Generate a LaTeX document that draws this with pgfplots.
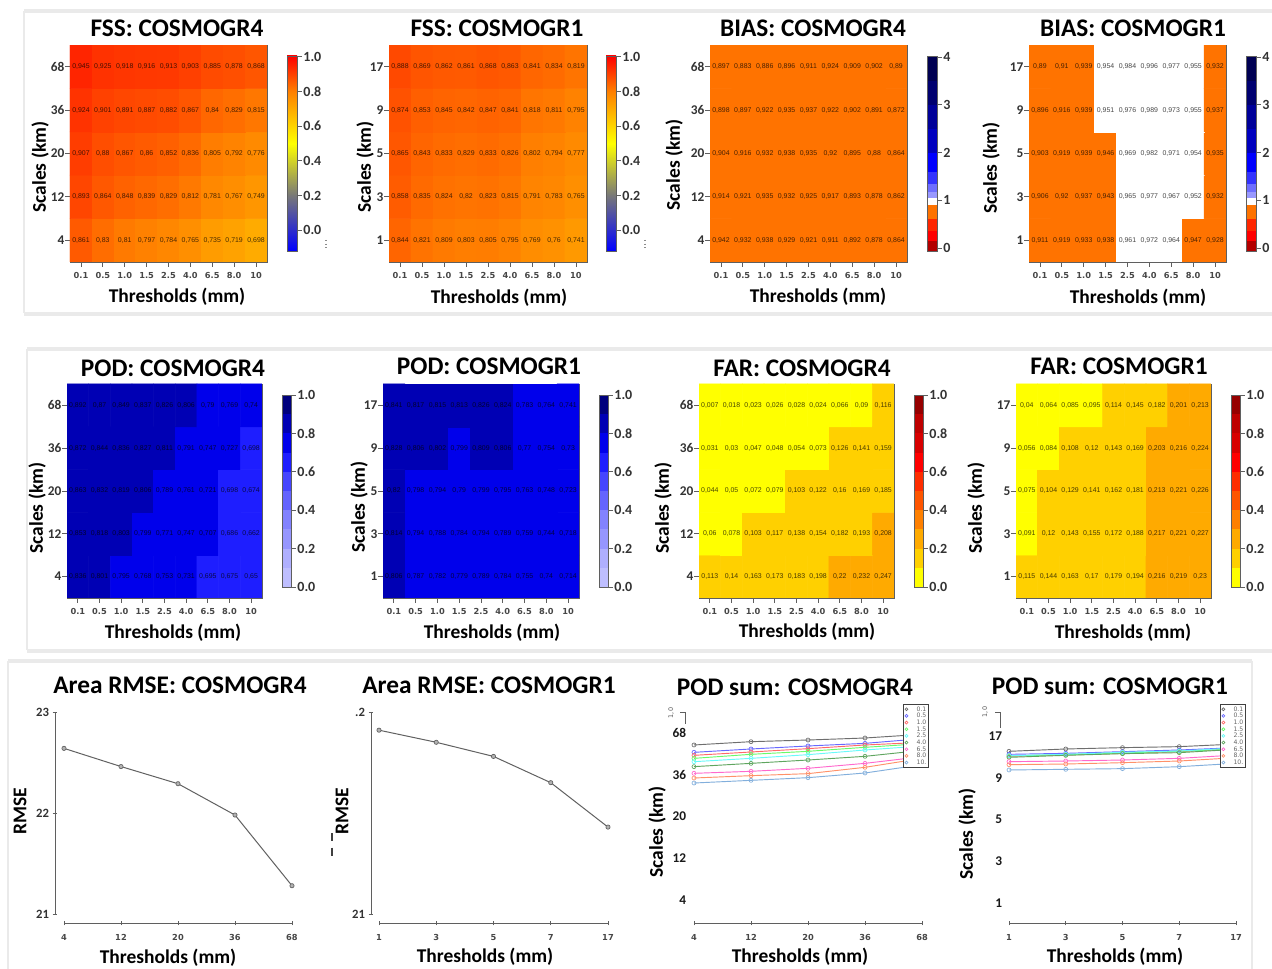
\documentclass[border=0pt]{standalone}
\usepackage{fontspec}
\usepackage{pgfplots}
\usepackage{pgfplotstable}
\pgfplotsset{compat=1.18}
\setmainfont{Carlito}
\newfontfamily\tickfont{DejaVu Sans}
\newfontfamily\cellfont{Liberation Sans}
\definecolor{frameg}{RGB}{95,95,95}
\definecolor{shadow}{RGB}{234,234,234}
% discrete colour scales
\definecolor{pod0}{RGB}{190,190,255}\definecolor{pod1}{RGB}{175,175,255}\definecolor{pod2}{RGB}{150,150,255}\definecolor{pod3}{RGB}{130,130,255}\definecolor{pod4}{RGB}{100,100,255}
\definecolor{pod5}{RGB}{70,70,255}\definecolor{pod6}{RGB}{30,30,255}\definecolor{pod7}{RGB}{0,0,235}\definecolor{pod8}{RGB}{0,0,180}\definecolor{pod9}{RGB}{0,0,125}
\definecolor{far0}{RGB}{255,255,0}\definecolor{far1}{RGB}{255,208,0}\definecolor{far2}{RGB}{255,170,0}\definecolor{far3}{RGB}{255,128,0}\definecolor{far4}{RGB}{255,85,0}
\definecolor{far5}{RGB}{255,45,0}\definecolor{far6}{RGB}{255,0,0}\definecolor{far7}{RGB}{215,0,0}\definecolor{far8}{RGB}{190,0,0}\definecolor{far9}{RGB}{150,0,0}
\definecolor{bor}{RGB}{255,115,0}
\pgfplotsset{
 colormap={fssmap}{rgb255(0pt)=(0,0,255) rgb255(32pt)=(120,120,120) rgb255(62pt)=(255,255,0) rgb255(92pt)=(255,128,0) rgb255(112.5pt)=(255,0,0)},
 colormap={podmap}{color=(pod0) color=(pod1) color=(pod2) color=(pod3) color=(pod4) color=(pod5) color=(pod6) color=(pod7) color=(pod8) color=(pod9)},
 colormap={farmap}{color=(far0) color=(far1) color=(far2) color=(far3) color=(far4) color=(far5) color=(far6) color=(far7) color=(far8) color=(far9)},
 colormap={biasmap}{color=(bor) color=(white)},
}
% ---- data, rows from the lowest scale upward
\pgfplotstableread[row sep=\\]{x y v\\
0 0 .861\\1 0 .83\\2 0 .81\\3 0 .797\\4 0 .784\\5 0 .765\\6 0 .735\\7 0 .719\\8 0 .698\\
0 1 .893\\1 1 .864\\2 1 .848\\3 1 .839\\4 1 .829\\5 1 .812\\6 1 .781\\7 1 .767\\8 1 .749\\
0 2 .907\\1 2 .88\\2 2 .867\\3 2 .86\\4 2 .852\\5 2 .836\\6 2 .805\\7 2 .792\\8 2 .776\\
0 3 .924\\1 3 .901\\2 3 .891\\3 3 .887\\4 3 .882\\5 3 .867\\6 3 .84\\7 3 .829\\8 3 .815\\
0 4 .945\\1 4 .925\\2 4 .918\\3 4 .916\\4 4 .913\\5 4 .903\\6 4 .885\\7 4 .878\\8 4 .868\\
}\fssA
\pgfplotstableread[row sep=\\]{x y v\\
0 0 .844\\1 0 .821\\2 0 .809\\3 0 .803\\4 0 .805\\5 0 .795\\6 0 .769\\7 0 .76\\8 0 .741\\
0 1 .858\\1 1 .835\\2 1 .824\\3 1 .82\\4 1 .823\\5 1 .815\\6 1 .791\\7 1 .783\\8 1 .765\\
0 2 .865\\1 2 .843\\2 2 .833\\3 2 .829\\4 2 .833\\5 2 .826\\6 2 .802\\7 2 .794\\8 2 .777\\
0 3 .874\\1 3 .853\\2 3 .845\\3 3 .842\\4 3 .847\\5 3 .841\\6 3 .818\\7 3 .811\\8 3 .795\\
0 4 .888\\1 4 .869\\2 4 .862\\3 4 .861\\4 4 .868\\5 4 .863\\6 4 .841\\7 4 .834\\8 4 .819\\
}\fssB
\pgfplotstableread[row sep=\\]{x y v\\
0 0 .942\\1 0 .932\\2 0 .938\\3 0 .929\\4 0 .921\\5 0 .911\\6 0 .892\\7 0 .878\\8 0 .864\\
0 1 .914\\1 1 .921\\2 1 .935\\3 1 .932\\4 1 .925\\5 1 .917\\6 1 .893\\7 1 .878\\8 1 .862\\
0 2 .904\\1 2 .916\\2 2 .932\\3 2 .938\\4 2 .935\\5 2 .92\\6 2 .895\\7 2 .88\\8 2 .864\\
0 3 .898\\1 3 .897\\2 3 .922\\3 3 .935\\4 3 .937\\5 3 .922\\6 3 .902\\7 3 .891\\8 3 .872\\
0 4 .897\\1 4 .883\\2 4 .886\\3 4 .896\\4 4 .911\\5 4 .924\\6 4 .909\\7 4 .902\\8 4 .89\\
}\biasA
\pgfplotstableread[row sep=\\]{x y v\\
0 0 .911\\1 0 .919\\2 0 .933\\3 0 .938\\4 0 .961\\5 0 .972\\6 0 .964\\7 0 .947\\8 0 .928\\
0 1 .906\\1 1 .92\\2 1 .937\\3 1 .943\\4 1 .965\\5 1 .977\\6 1 .967\\7 1 .952\\8 1 .932\\
0 2 .903\\1 2 .919\\2 2 .939\\3 2 .946\\4 2 .969\\5 2 .982\\6 2 .971\\7 2 .954\\8 2 .935\\
0 3 .896\\1 3 .916\\2 3 .939\\3 3 .951\\4 3 .976\\5 3 .989\\6 3 .973\\7 3 .955\\8 3 .937\\
0 4 .89\\1 4 .91\\2 4 .939\\3 4 .954\\4 4 .984\\5 4 .996\\6 4 .977\\7 4 .955\\8 4 .932\\
}\biasB
\pgfplotstableread[row sep=\\]{x y v\\
0 0 .836\\1 0 .801\\2 0 .795\\3 0 .768\\4 0 .753\\5 0 .731\\6 0 .695\\7 0 .675\\8 0 .65\\
0 1 .853\\1 1 .818\\2 1 .803\\3 1 .799\\4 1 .771\\5 1 .747\\6 1 .707\\7 1 .686\\8 1 .662\\
0 2 .863\\1 2 .832\\2 2 .819\\3 2 .806\\4 2 .789\\5 2 .761\\6 2 .721\\7 2 .698\\8 2 .674\\
0 3 .872\\1 3 .844\\2 3 .836\\3 3 .827\\4 3 .811\\5 3 .791\\6 3 .747\\7 3 .727\\8 3 .698\\
0 4 .892\\1 4 .87\\2 4 .849\\3 4 .837\\4 4 .826\\5 4 .806\\6 4 .79\\7 4 .769\\8 4 .74\\
}\podA
\pgfplotstableread[row sep=\\]{x y v\\
0 0 .806\\1 0 .787\\2 0 .782\\3 0 .779\\4 0 .789\\5 0 .784\\6 0 .755\\7 0 .74\\8 0 .714\\
0 1 .814\\1 1 .794\\2 1 .788\\3 1 .784\\4 1 .794\\5 1 .789\\6 1 .759\\7 1 .744\\8 1 .718\\
0 2 .82\\1 2 .798\\2 2 .794\\3 2 .79\\4 2 .799\\5 2 .795\\6 2 .763\\7 2 .748\\8 2 .723\\
0 3 .828\\1 3 .806\\2 3 .802\\3 3 .799\\4 3 .809\\5 3 .806\\6 3 .77\\7 3 .754\\8 3 .73\\
0 4 .841\\1 4 .817\\2 4 .815\\3 4 .813\\4 4 .826\\5 4 .824\\6 4 .783\\7 4 .764\\8 4 .741\\
}\podB
\pgfplotstableread[row sep=\\]{x y v\\
0 0 .113\\1 0 .14\\2 0 .163\\3 0 .173\\4 0 .183\\5 0 .198\\6 0 .22\\7 0 .232\\8 0 .247\\
0 1 .06\\1 1 .078\\2 1 .103\\3 1 .117\\4 1 .138\\5 1 .154\\6 1 .182\\7 1 .193\\8 1 .208\\
0 2 .044\\1 2 .05\\2 2 .072\\3 2 .079\\4 2 .103\\5 2 .122\\6 2 .16\\7 2 .169\\8 2 .185\\
0 3 .031\\1 3 .03\\2 3 .047\\3 3 .048\\4 3 .054\\5 3 .073\\6 3 .126\\7 3 .141\\8 3 .159\\
0 4 .007\\1 4 .018\\2 4 .023\\3 4 .026\\4 4 .028\\5 4 .024\\6 4 .066\\7 4 .09\\8 4 .116\\
}\farA
\pgfplotstableread[row sep=\\]{x y v\\
0 0 .115\\1 0 .144\\2 0 .163\\3 0 .17\\4 0 .179\\5 0 .194\\6 0 .216\\7 0 .219\\8 0 .23\\
0 1 .091\\1 1 .12\\2 1 .143\\3 1 .155\\4 1 .172\\5 1 .188\\6 1 .217\\7 1 .221\\8 1 .227\\
0 2 .075\\1 2 .104\\2 2 .129\\3 2 .141\\4 2 .162\\5 2 .181\\6 2 .213\\7 2 .221\\8 2 .226\\
0 3 .056\\1 3 .084\\2 3 .108\\3 3 .12\\4 3 .143\\5 3 .169\\6 3 .203\\7 3 .216\\8 3 .224\\
0 4 .04\\1 4 .064\\2 4 .085\\3 4 .095\\4 4 .114\\5 4 .145\\6 4 .182\\7 4 .201\\8 4 .213\\
}\farB
% ---- styles
\pgfplotsset{
 base/.style={scale only axis, tick align=outside, major tick length=3.6pt, tick style={frameg,line width=0.6pt},
   axis line style={frameg,line width=0.7pt},
   xticklabel style={font=\tickfont\bfseries\fontsize{6.2}{7}\selectfont,text=black!72,inner sep=1pt},
   yticklabel style={font=\bfseries\fontsize{10}{11}\selectfont,text=black!80,inner sep=0.5pt}},
 heatbase/.style={base, tick pos=left, enlargelimits=false, xmin=-0.5,xmax=8.5,ymin=-0.5,ymax=4.5,
   xtick={0,...,8}, ytick={0,...,4}, xticklabels={0.1,0.5,1.0,1.5,2.5,4.0,6.5,8.0,10},
   xticklabel style={yshift=-3pt},
   /pgf/number format/.cd, assume math mode=true, use comma, fixed, precision=3, /pgfplots/.cd},
 cbbase/.style={base, xmin=0,xmax=1, xtick=\empty, enlargelimits=false, ytick pos=right, yticklabel pos=right, clip=true,
   axis on top, /pgf/number format/assume math mode=true,
   yticklabel style={font=\bfseries\fontsize{10.5}{11}\selectfont,text=black!80,inner sep=1pt}},
 sumline/.style={line width=0.7pt, color=#1, mark=o, mark size=1.5pt, mark options={draw=#1,line width=0.5pt,fill=none}},
}
\newcommand{\heat}[7]{%  x, bottom, w, h, table, colormap options, y labels
 \begin{axis}[heatbase, at={(#1*0.75pt,-#2*0.75pt)}, width=#3*0.75pt, height=#4*0.75pt, #6, yticklabels={#7}]
  \addplot[matrix plot*, mesh/cols=9, point meta=\thisrow{v}] table[x=x,y=y] {#5};
  \addplot[draw=none, mark=none, point meta=\thisrow{v}, nodes near coords,
    every node near coord/.append style={anchor=center,inner sep=0pt,font=\cellfont\fontsize{5.2}{5.5}\selectfont,text=black,text opacity=0.72}] table[x=x,y=y] {#5};
 \end{axis}}
\newcommand{\cbar}[8]{% x,bottom,w,h,ymin,ymax,ticks,content
 \begin{axis}[cbbase, at={(#1*0.75pt,-#2*0.75pt)}, width=#3*0.75pt, height=#4*0.75pt, ymin=#5,ymax=#6, ytick={#7}, yticklabel style={/pgf/number format/.cd,fixed,fixed zerofill,precision=1}]
  #8
 \end{axis}}
\newcommand{\cb}[3]{\fill[#1] (axis cs:0,#2) rectangle (axis cs:1,#3);}
\newcommand{\cbfss}{%
  \shade[bottom color={rgb,255:red,0;green,0;blue,255},top color={rgb,255:red,120;green,120;blue,120}] (axis cs:0,-0.12) rectangle (axis cs:1,0.2);
  \shade[bottom color={rgb,255:red,120;green,120;blue,120},top color=yellow] (axis cs:0,0.2) rectangle (axis cs:1,0.5);
  \shade[bottom color=yellow,top color={rgb,255:red,255;green,128;blue,0}] (axis cs:0,0.5) rectangle (axis cs:1,0.8);
  \shade[bottom color={rgb,255:red,255;green,128;blue,0},top color=red] (axis cs:0,0.8) rectangle (axis cs:1,1.005);}
\newcommand{\cbpod}{\cb{pod0}{0}{.1}\cb{pod1}{.1}{.2}\cb{pod2}{.2}{.3}\cb{pod3}{.3}{.4}\cb{pod4}{.4}{.5}\cb{pod5}{.5}{.6}\cb{pod6}{.6}{.7}\cb{pod7}{.7}{.8}\cb{pod8}{.8}{.9}\cb{pod9}{.9}{1}}
\newcommand{\cbfar}{\cb{far0}{0}{.1}\cb{far1}{.1}{.2}\cb{far2}{.2}{.3}\cb{far3}{.3}{.4}\cb{far4}{.4}{.5}\cb{far5}{.5}{.6}\cb{far6}{.6}{.7}\cb{far7}{.7}{.8}\cb{far8}{.8}{.9}\cb{far9}{.9}{1}}
\newcommand{\cbbias}{\cb{black!0!red!70!black}{-0.06}{.14}\cb{red}{.14}{.35}\cb{orange!30!red}{.35}{.61}\cb{bor}{.61}{.91}\cb{white}{.91}{1.05}\cb{blue!40}{1.05}{1.17}\cb{blue!57}{1.17}{1.35}\cb{blue!80}{1.35}{1.6}\cb{blue}{1.6}{2}\cb{blue!75!black}{2}{2.5}\cb{blue!60!black}{2.5}{3}\cb{blue!44!black}{3}{3.5}\cb{blue!32!black}{3.5}{4.02}}
\begin{document}
\begin{tikzpicture}
\useasboundingbox[fill=white] (0,0) rectangle (954pt,-726.75pt);
% panels
\begin{scope}[x=0.75pt,y=-0.75pt]
 \draw[shadow,line width=3pt] (24,11) -- (1272,11);
 \draw[shadow,line width=1.2pt] (24,11) -- (24,313);
 \draw[shadow,line width=3pt] (24,314) -- (1272,314);
 \draw[shadow,line width=3pt] (27,349) -- (1272,349);
 \draw[shadow,line width=1.2pt] (27,349) -- (27,650);
 \draw[shadow,line width=3pt] (27,651) -- (1272,651);
 \draw[shadow,line width=3pt] (8,661) -- (1252,661);
 \draw[shadow,line width=1.2pt] (8,661) -- (8,969);
 \draw[shadow,line width=1.2pt] (1252,661) -- (1252,969);
\end{scope}
% ---- heat maps
\heat{70}{262}{197}{217}{\fssA}{colormap name=fssmap,point meta min=-0.12,point meta max=1.005}{4,12,20,36,68}
\heat{389}{262}{198}{217}{\fssB}{colormap name=fssmap,point meta min=-0.12,point meta max=1.005}{1,3,5,9,17}
\heat{710}{262}{197}{217}{\biasA}{colormap name=biasmap,colormap access=piecewise constant,point meta min=0.9,point meta max=1}{4,12,20,36,68}
\heat{1029}{262}{197}{217}{\biasB}{colormap name=biasmap,colormap access=piecewise constant,point meta min=0.9,point meta max=1}{1,3,5,9,17}
\heat{67}{598}{195}{214}{\podA}{colormap name=podmap,colormap access=piecewise constant,point meta min=0,point meta max=1}{4,12,20,36,68}
\heat{383}{598}{196}{214}{\podB}{colormap name=podmap,colormap access=piecewise constant,point meta min=0,point meta max=1}{1,3,5,9,17}
\heat{699}{598}{195}{214}{\farA}{colormap name=farmap,colormap access=piecewise constant,point meta min=0,point meta max=1}{4,12,20,36,68}
\heat{1016}{598}{195}{214}{\farB}{colormap name=farmap,colormap access=piecewise constant,point meta min=0,point meta max=1}{1,3,5,9,17}
% ---- colour bars
\cbar{287}{251}{10}{195}{-0.12}{1.005}{0,0.2,0.4,0.6,0.8,1}{\cbfss}
\cbar{606}{251}{10}{195}{-0.12}{1.005}{0,0.2,0.4,0.6,0.8,1}{\cbfss}
\begin{axis}[cbbase, at={(927*0.75pt,-251*0.75pt)}, width=10*0.75pt, height=195*0.75pt, ymin=-0.06,ymax=4.02, ytick={0,1,2,3,4}]\cbbias\end{axis}
\begin{axis}[cbbase, at={(1246*0.75pt,-251*0.75pt)}, width=10*0.75pt, height=195*0.75pt, ymin=-0.06,ymax=4.02, ytick={0,1,2,3,4}]\cbbias\end{axis}
\cbar{282}{587}{9}{192}{0}{1}{0,0.2,0.4,0.6,0.8,1}{\cbpod}
\cbar{599}{587}{9}{192}{0}{1}{0,0.2,0.4,0.6,0.8,1}{\cbpod}
\cbar{914}{587}{9}{192}{0}{1}{0,0.2,0.4,0.6,0.8,1}{\cbfar}
\cbar{1231}{587}{9}{192}{0}{1}{0,0.2,0.4,0.6,0.8,1}{\cbfar}
% ---- RMSE
\pgfplotsset{
 rowx/.style={base, axis y line=none, axis x line=bottom, axis line style={-,frameg,line width=0.7pt}, clip=false,
   xmin=0,xmax=4,xtick={0,...,4}, xticklabel style={yshift=-5.5pt,font=\tickfont\bfseries\fontsize{6.2}{7}\selectfont}},
 rowy/.style={base, axis x line=none, axis y line=left, axis line style={-,frameg,line width=0.7pt}, xmin=0,xmax=1,width=1pt},
 rm/.style={color=black!62, line width=0.75pt, mark=*, mark size=1.6pt, mark options={fill=black!30,draw=black!62,line width=0.5pt}},
}
\begin{axis}[rowx, at={(64*0.75pt,-923*0.75pt)}, width=228*0.75pt, height=211*0.75pt, ymin=20.911,ymax=23, xticklabels={4,12,20,36,68}]
 \addplot[rm] coordinates {(0,22.64)(1,22.46)(2,22.29)(3,21.98)(4,21.28)};
\end{axis}
\begin{axis}[rowy, at={(55*0.75pt,-914*0.75pt)}, height=202*0.75pt, ymin=21,ymax=23, ytick={21,22,23}, yticklabel style={/pgf/number format/assume math mode=true,font=\bfseries\fontsize{9.5}{11}\selectfont,xshift=-2pt}]
\end{axis}
\begin{axis}[rowx, at={(379*0.75pt,-923*0.75pt)}, width=229*0.75pt, height=211*0.75pt, ymin=20.955,ymax=22, xticklabels={1,3,5,7,17}]
 \addplot[rm] coordinates {(0,21.91)(1,21.85)(2,21.78)(3,21.65)(4,21.43)};
\end{axis}
\begin{axis}[rowy, at={(371*0.75pt,-914*0.75pt)}, height=202*0.75pt, ymin=21,ymax=22, ytick={21,22}, yticklabels={21,.2}, yticklabel style={font=\bfseries\fontsize{9.5}{11}\selectfont,xshift=-2pt}]
\end{axis}
% ---- POD sum
\pgfplotsset{sumleg/.style={legend style={draw=black!75,line width=0.5pt,fill=white,inner sep=1.2pt,
    font=\tickfont\fontsize{4.6}{5}\selectfont, text=black!60, row sep=0pt,
    nodes={inner sep=0pt,text height=3.9pt,text depth=1.1pt},
    /tikz/column 1/.style={column sep=6.5pt}}, legend cell align=left,
    legend image code/.code={\draw[##1,draw=none,mark size=1.1pt] plot coordinates {(0.08cm,0cm)};}}}
\definecolor{s1}{RGB}{110,110,110}\definecolor{s2}{RGB}{105,105,255}\definecolor{s3}{RGB}{255,105,105}\definecolor{s4}{RGB}{105,250,105}\definecolor{s5}{RGB}{105,250,250}\definecolor{s6}{RGB}{95,165,95}\definecolor{s7}{RGB}{255,105,205}\definecolor{s8}{RGB}{255,145,105}\definecolor{s9}{RGB}{130,175,220}
\begin{axis}[rowx, at={(694*0.75pt,-923*0.75pt)}, width=228*0.75pt, height=209*0.75pt, ymin=-0.551,ymax=4.455, xticklabels={4,12,20,36,68},
   sumleg, legend style={at={(0.917,1.048)},anchor=north west}]
 \addplot[sumline=s1] coordinates {(0,3.713)(1,3.792)(2,3.832)(3,3.880)(4,3.968)};
 \addplot[sumline=s2] coordinates {(0,3.537)(1,3.617)(2,3.689)(3,3.752)(4,3.864)};
 \addplot[sumline=s3] coordinates {(0,3.465)(1,3.545)(2,3.625)(3,3.713)(4,3.776)};
 \addplot[sumline=s4] coordinates {(0,3.393)(1,3.489)(2,3.561)(3,3.657)(4,3.745)};
 \addplot[sumline=s5] coordinates {(0,3.313)(1,3.393)(2,3.481)(3,3.593)(4,3.689)};
 \addplot[sumline=s6] coordinates {(0,3.194)(1,3.273)(2,3.353)(3,3.441)(4,3.585)};
 \addplot[sumline=s7] coordinates {(0,3.034)(1,3.082)(2,3.154)(3,3.273)(4,3.433)};
 \addplot[sumline=s8] coordinates {(0,2.922)(1,2.978)(2,3.026)(3,3.178)(4,3.393)};
 \addplot[sumline=s9] coordinates {(0,2.802)(1,2.866)(2,2.930)(3,3.042)(4,3.242)};
 \legend{0.1,0.5,1.0,1.5,2.5,4.0,6.5,8.0,10.}
\end{axis}
\begin{axis}[rowy, at={(687*0.75pt,-923*0.75pt)}, height=209*0.75pt, ymin=-0.551,ymax=4.455, ytick={0,...,4}, yticklabels={4,12,20,36,68},
  axis line style={draw=none}, major tick length=0pt, yticklabel style={font=\bfseries\fontsize{10}{11}\selectfont,text=black!90}]
\end{axis}
\begin{axis}[rowx, at={(1009*0.75pt,-923*0.75pt)}, width=227*0.75pt, height=209*0.75pt, ymin=-0.479,ymax=4.527, xticklabels={1,3,5,7,17},
   sumleg, legend style={at={(0.9295,1.048)},anchor=north west}]
 \addplot[sumline=s1] coordinates {(0,3.633)(1,3.689)(2,3.721)(3,3.745)(4,3.808)};
 \addplot[sumline=s2] coordinates {(0,3.561)(1,3.585)(2,3.625)(3,3.665)(4,3.721)};
 \addplot[sumline=s3] coordinates {(0,3.513)(1,3.545)(2,3.585)(3,3.625)(4,3.689)};
 \addplot[sumline=s4] coordinates {(0,3.521)(1,3.553)(2,3.593)(3,3.633)(4,3.689)};
 \addplot[sumline=s5] coordinates {(0,3.529)(1,3.561)(2,3.609)(3,3.641)(4,3.713)};
 \addplot[sumline=s6] coordinates {(0,3.489)(1,3.537)(2,3.577)(3,3.601)(4,3.681)};
 \addplot[sumline=s7] coordinates {(0,3.385)(1,3.401)(2,3.425)(3,3.465)(4,3.545)};
 \addplot[sumline=s8] coordinates {(0,3.313)(1,3.329)(2,3.361)(3,3.401)(4,3.481)};
 \addplot[sumline=s9] coordinates {(0,3.186)(1,3.202)(2,3.218)(3,3.265)(4,3.345)};
 \legend{0.1,0.5,1.0,1.5,2.5,4.0,6.5,8.0,10.}
\end{axis}
\begin{axis}[rowy, at={(1003*0.75pt,-923*0.75pt)}, height=209*0.75pt, ymin=-0.479,ymax=4.527, ytick={0,...,4}, yticklabels={1,3,5,9,17},
  axis line style={draw=none}, major tick length=0pt, yticklabel style={font=\bfseries\fontsize{10}{11}\selectfont,text=black!90}]
\end{axis}
% ---- text and small marks, in reference pixels
\begin{scope}[x=0.75pt,y=-0.75pt,every node/.style={inner sep=0pt,font=\bfseries}]
 \def\T{\fontsize{19}{21}\selectfont}
 \def\L{\fontsize{14.6}{16}\selectfont}
 \foreach \x/\y/\t in {177/28/FSS: COSMOGR4,497/28/FSS: COSMOGR1,813/28/BIAS: COSMOGR4,1133/28/BIAS: COSMOGR1,
   173/368/POD: COSMOGR4,489/366/POD: COSMOGR1,802/368/FAR: COSMOGR4,1119/366/FAR: COSMOGR1,
   180/685/Area RMSE: COSMOGR4,489/685/Area RMSE: COSMOGR1,795/687/POD sum: COSMOGR4,1110/686/POD sum: COSMOGR1}
   \node[font=\bfseries\T] at (\x,\y) {\t};
 \foreach \x/\y in {177/297,499/298,818/297,1138/298,173/633,492/633,807/632,1123/633,168/958,485/957,800/957,1115/957}
   \node[font=\bfseries\L] at (\x,\y) {Thresholds (mm)};
 \foreach \x/\y in {40/167,365/167,674/165,991/168,37/508,359/507,663/508,976/508,657/832,967/834}
   \node[font=\bfseries\L,rotate=90] at (\x,\y) {Scales (km)};
 \node[font=\bfseries\L,rotate=90] at (20,811) {RMSE};
 \node[font=\bfseries\L,rotate=90] at (342,811) {RMSE};
 \draw[black!75,line width=0.9pt,dash pattern=on 6pt off 5pt] (332,833) -- (332,860);
 \draw[black!45,line width=0.8pt,dotted] (326,240) -- (326,248);
 \draw[black!45,line width=0.8pt,dotted] (645,240) -- (645,248);
 % POD-sum stubs
 \draw[frameg,line width=0.7pt] (680,712) -- (685,712) -- (685,724);
 \draw[frameg,line width=0.7pt] (995,712) -- (1000,712) -- (1000,728);
 \node[font=\tickfont\fontsize{4.8}{5}\selectfont,text=black!65,rotate=90] at (671,713) {1,0};
 \node[font=\tickfont\fontsize{4.8}{5}\selectfont,text=black!65,rotate=90] at (985,712) {1,0};
\end{scope}
\end{tikzpicture}
\end{document}
